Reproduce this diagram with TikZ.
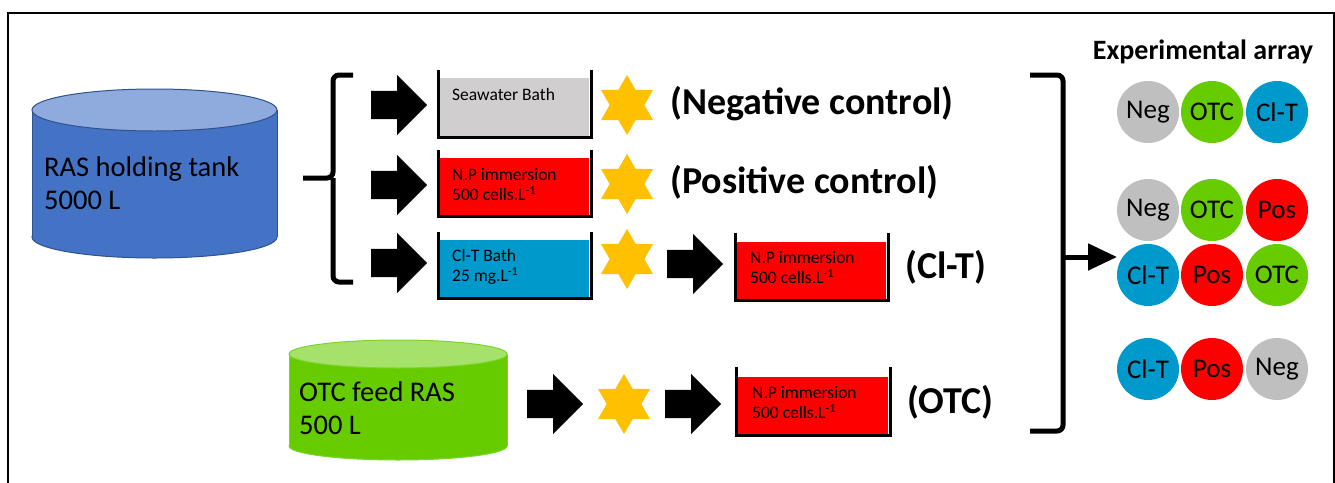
\documentclass[tikz,border=0pt]{standalone}
\usepackage{fontspec}
\setmainfont{Carlito}
\usetikzlibrary{shapes.geometric,shapes.arrows,arrows.meta}
\definecolor{tankblue}{HTML}{4472C4}
\definecolor{tanktop}{HTML}{8FAADC}
\definecolor{tankedge}{HTML}{2F528F}
\definecolor{feedgreen}{HTML}{66CC00}
\definecolor{feedtop}{HTML}{A6E16A}
\definecolor{feededge}{HTML}{7AD531}
\definecolor{seagray}{HTML}{D0CECE}
\definecolor{neggray}{HTML}{BFBFBF}
\definecolor{npred}{HTML}{FF0000}
\definecolor{clblue}{HTML}{0099CC}
\definecolor{stargold}{HTML}{FFC000}
\tikzset{
  blockarrow/.style={single arrow, fill=black, inner xsep=0pt, inner ysep=14pt, single arrow head extend=16pt, minimum height=56pt, anchor=tail},
  hexstar/.style={star, star points=6, star point ratio=1.73, minimum size=60pt, inner sep=0pt, fill=stargold},
  bathwall/.style={line width=3pt},
  bathtext/.style={anchor=west, align=left, inner sep=0pt, font=\fontsize{17.5}{20}\selectfont},
  tanktext/.style={anchor=west, align=left, inner sep=0pt, font=\fontsize{28.5}{33}\selectfont},
  grouplabel/.style={anchor=west, inner sep=0pt, font=\bfseries\fontsize{38}{45}\selectfont},
  arraydot/.style={circle, minimum size=62pt, inner sep=0pt, font=\fontsize{27}{30}\selectfont},
  brace/.style={line width=5pt, rounded corners=6pt}
}
\begin{document}
\begin{tikzpicture}[x=1pt,y=-1pt]
\useasboundingbox (0,0) rectangle (1335,482);
%\draw[step=50,gray,very thin] (0,0) grid (1335,482);
\draw[line width=1.5pt] (8,490)--(8,13)--(1334,13)--(1334,490);
% holding tank
\filldraw[fill=tankblue,draw=tankedge,line width=1pt] (154.5,237) ellipse (122.5 and 21);
\fill[tankblue] (32,110) rectangle (277,237);
\draw[tankedge,line width=1pt] (32,110)--(32,237) (277,110)--(277,237);
\filldraw[fill=tanktop,draw=tankedge,line width=1pt] (154.5,110) ellipse (122.5 and 21);
\node[tanktext] (rastank) at (44,183) {RAS holding tank\\5000 L};
% feed tank
\filldraw[fill=feedgreen,draw=feededge,line width=1pt] (398,446) ellipse (109 and 14);
\fill[feedgreen] (289,354) rectangle (507,446);
\draw[feededge,line width=1pt] (289,354)--(289,446) (507,354)--(507,446);
\filldraw[fill=feedtop,draw=feededge,line width=1pt] (398,354) ellipse (109 and 14);
\node[tanktext] (otctank) at (299,408) {OTC feed RAS\\500 L};
% left brace
\draw[brace] (353,75)--(333,75)--(333,178)--(303,178);
\draw[brace] (333,178)--(333,282)--(353,282);
% first arrows
\node[blockarrow] (arr1) at (371,105) {};
\node[blockarrow] (arr2) at (371,185) {};
\node[blockarrow] (arr3) at (371,263) {};
% baths
\fill[seagray] (440,78) rectangle (589,136);
\draw[bathwall] (438,70)--(438,137)--(591,137)--(591,70);
\node[bathtext] (seabath) at (452,94) {Seawater Bath};
\fill[npred] (440,158) rectangle (589,215);
\draw[bathwall] (438,150)--(438,216)--(591,216)--(591,150);
\node[bathtext] (npbath) at (452,185) {N.P immersion\\500 cells.L\textsuperscript{-1}};
\fill[clblue] (440,240) rectangle (589,297);
\draw[bathwall] (438,232)--(438,298)--(591,298)--(591,232);
\node[bathtext] (clbath) at (452,267) {Cl-T Bath\\25 mg.L\textsuperscript{-1}};
% stars
\node[hexstar] (star1) at (627,105) {};
\node[hexstar] (star2) at (627,184) {};
\node[hexstar] (star3) at (627,259) {};
\node[hexstar] (star4) at (624,404) {};
% second stage
\node[blockarrow] (arr4) at (667,264) {};
\fill[npred] (737,242) rectangle (886,299);
\draw[bathwall] (735,233)--(735,300)--(888,300)--(888,233);
\node[bathtext] (npbath2) at (750,268) {N.P immersion\\500 cells.L\textsuperscript{-1}};
\node[blockarrow] (arr5) at (527,404) {};
\node[blockarrow] (arr6) at (665,404) {};
\fill[npred] (738,377) rectangle (888,434);
\draw[bathwall] (736,367)--(736,435)--(890,435)--(890,367);
\node[bathtext] (npbath3) at (752,403) {N.P immersion\\500 cells.L\textsuperscript{-1}};
% group labels
\node[grouplabel] (neglab) at (670,104) {(Negative control)};
\node[grouplabel] (poslab) at (670,182) {(Positive control)};
\node[grouplabel] (cltlab) at (905,267) {(Cl-T)};
\node[grouplabel] (otclab) at (907,402) {(OTC)};
% right brace
\draw[brace] (1030,75)--(1063,75)--(1063,257)--(1063,431)--(1030,431);
\coordinate (bracetip) at (1063,257);
\coordinate (arraytip) at (1117,257);
\draw[line width=5pt,-{Triangle[length=29pt,width=26pt]}] (bracetip)--(arraytip);
% experimental array
\node[font=\bfseries\fontsize{28}{32}\selectfont] (arraytitle) at (1203,52) {Experimental array};
\node[arraydot,fill=neggray] (a11) at (1148,112) {Neg};
\node[arraydot,fill=feedgreen] (a12) at (1212,112) {OTC};
\node[arraydot,fill=clblue] (a13) at (1277,112) {Cl-T};
\node[arraydot,fill=neggray] (a21) at (1148,210) {Neg};
\node[arraydot,fill=feedgreen] (a22) at (1212,210) {OTC};
\node[arraydot,fill=npred] (a23) at (1277,210) {Pos};
\node[arraydot,fill=clblue] (a31) at (1148,275) {Cl-T};
\node[arraydot,fill=npred] (a32) at (1212,275) {Pos};
\node[arraydot,fill=feedgreen] (a33) at (1277,275) {OTC};
\node[arraydot,fill=clblue] (a41) at (1148,369) {Cl-T};
\node[arraydot,fill=npred] (a42) at (1212,369) {Pos};
\node[arraydot,fill=neggray] (a43) at (1277,369) {Neg};
\end{tikzpicture}
\end{document}
